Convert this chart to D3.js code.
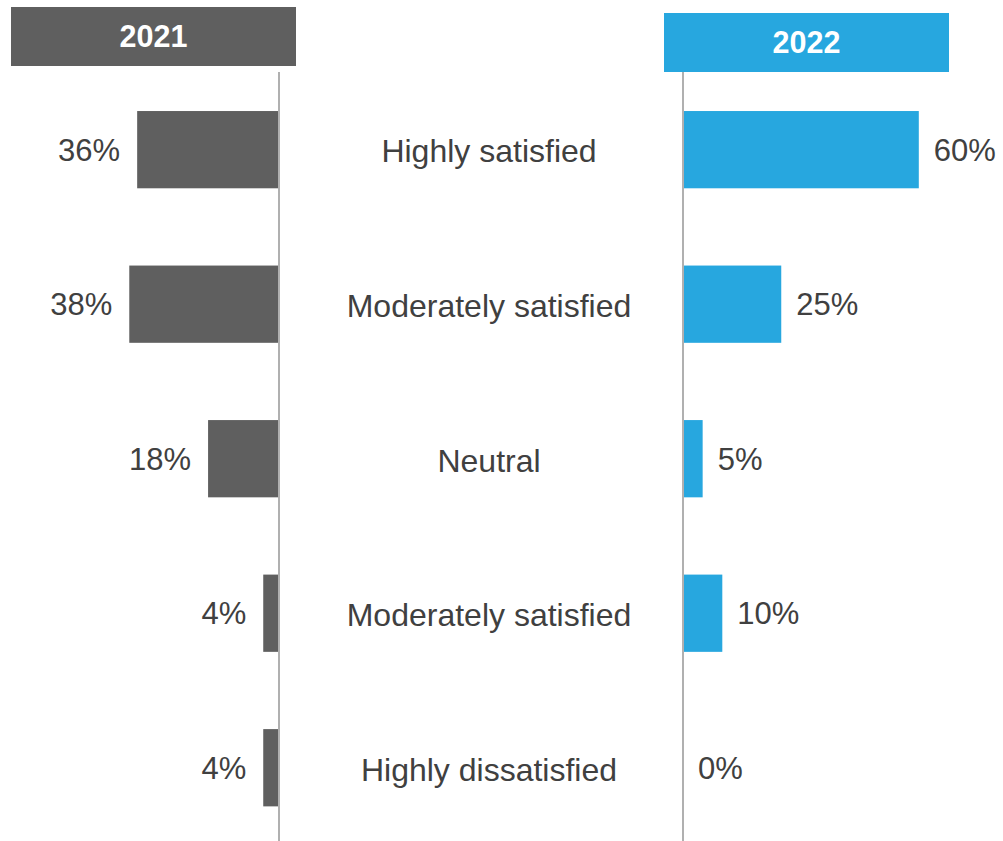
<!DOCTYPE html>
<html>
<head>
<meta charset="utf-8">
<script src="https://cdn.jsdelivr.net/npm/d3@7"></script>
<style>
  html, body { margin: 0; padding: 0; background: #ffffff; }
  svg { display: block; }
  text { font-family: "Liberation Sans", Arial, sans-serif; }
</style>
</head>
<body>
<svg id="chart" width="1003" height="841"></svg>
<script>
const categories = ["Highly satisfied", "Moderately satisfied", "Neutral", "Moderately satisfied", "Highly dissatisfied"];
const values2021 = [36, 38, 18, 4, 4];
const values2022 = [60, 25, 5, 10, 0];
const years = ["2021", "2022"];

const W = 1003, H = 841;
const svg = d3.select("#chart");

const colorL = "#5f5f5f", colorR = "#27a7df";
const textColor = "#404040", axisColor = "#b0b0b0";

const idx = categories.map((d, i) => i);
const y = d3.scaleBand().domain(idx).range([72.4, 845]).paddingInner(0.5).paddingOuter(0.25);

const axisL = 279, axisR = 683;
const xL = d3.scaleLinear().domain([0, 100]).range([axisL, axisL - 394]);
const xR = d3.scaleLinear().domain([0, 100]).range([axisR, axisR + 393]);

// headers
const headers = [
  {label: years[0], x: 11, y: 7, w: 285, h: 59, fill: colorL},
  {label: years[1], x: 664, y: 13, w: 285, h: 59, fill: colorR}
];
const hg = svg.selectAll("g.header").data(headers).join("g").attr("class", "header");
hg.append("rect").attr("x", d => d.x).attr("y", d => d.y).attr("width", d => d.w).attr("height", d => d.h).attr("fill", d => d.fill);
hg.append("text").attr("x", d => d.x + d.w / 2).attr("y", d => d.y + d.h / 2).attr("dy", "0.36em")
  .attr("text-anchor", "middle").attr("fill", "#ffffff").attr("font-weight", "bold").attr("font-size", 30.5)
  .text(d => d.label);

// left bars
svg.selectAll("rect.barL").data(values2021).join("rect").attr("class", "barL")
  .attr("x", d => xL(d)).attr("y", (d, i) => y(i))
  .attr("width", d => xL(0) - xL(d)).attr("height", y.bandwidth()).attr("fill", colorL);
svg.selectAll("text.valL").data(values2021).join("text").attr("class", "valL")
  .attr("x", d => xL(d) - 17).attr("y", (d, i) => y(i) + y.bandwidth() / 2).attr("dy", "0.36em")
  .attr("text-anchor", "end").attr("font-size", 31).attr("fill", textColor)
  .text(d => d + "%");

// right bars
svg.selectAll("rect.barR").data(values2022).join("rect").attr("class", "barR")
  .attr("x", xR(0)).attr("y", (d, i) => y(i))
  .attr("width", d => xR(d) - xR(0)).attr("height", y.bandwidth()).attr("fill", colorR);
svg.selectAll("text.valR").data(values2022).join("text").attr("class", "valR")
  .attr("x", d => xR(d) + 15).attr("y", (d, i) => y(i) + y.bandwidth() / 2).attr("dy", "0.36em")
  .attr("text-anchor", "start").attr("font-size", 31).attr("fill", textColor)
  .text(d => d + "%");

// category labels
svg.selectAll("text.cat").data(categories).join("text").attr("class", "cat")
  .attr("x", 489).attr("y", (d, i) => y(i) + y.bandwidth() / 2).attr("dy", "0.4em")
  .attr("text-anchor", "middle").attr("font-size", 32).attr("fill", textColor)
  .text(d => d);

// axis lines
svg.append("line").attr("x1", axisL).attr("x2", axisL).attr("y1", 72).attr("y2", 841)
  .attr("stroke", axisColor).attr("stroke-width", 2);
svg.append("line").attr("x1", axisR).attr("x2", axisR).attr("y1", 72).attr("y2", 841)
  .attr("stroke", axisColor).attr("stroke-width", 2);
</script>
</body>
</html>
